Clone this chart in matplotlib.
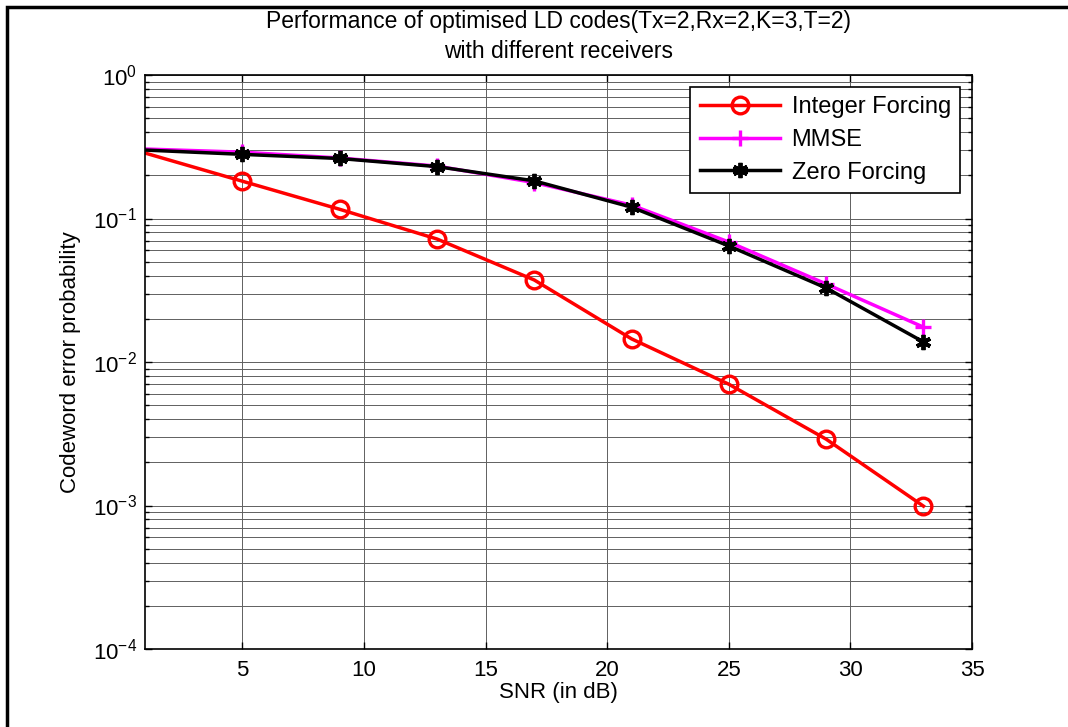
#!/usr/bin/env python
# coding: utf-8

r"""Codeword error probability vs SNR for optimised LD codes
    x : SNR (dB)
    y : codeword error probability (log)
"""
import matplotlib
matplotlib.use("Agg")
from matplotlib import pyplot as plt
from matplotlib.patches import Rectangle

snr_db = [1, 5, 9, 13, 17, 21, 25, 29, 33]
integer_forcing = [0.286, 0.182, 0.116, 0.072, 0.0373, 0.0145, 0.0070, 0.0029, 0.00099]
mmse = [0.305, 0.290, 0.264, 0.232, 0.178, 0.124, 0.0686, 0.0350, 0.0175]
zero_forcing = [0.300, 0.280, 0.262, 0.230, 0.183, 0.120, 0.0644, 0.0328, 0.0138]

x_ticks = [5, 10, 15, 20, 25, 30, 35]
y_ticks = [1e-4, 1e-3, 1e-2, 1e-1, 1]
y_tick_labels = [r'$\mathregular{10^{-4}}$', r'$\mathregular{10^{-3}}$',
                 r'$\mathregular{10^{-2}}$', r'$\mathregular{10^{-1}}$',
                 r'$\mathregular{10^{0}}$']

plt.rcParams['font.family'] = ['Liberation Sans', 'DejaVu Sans']
plt.rcParams['mathtext.fontset'] = 'custom'
plt.rcParams['mathtext.rm'] = 'Liberation Sans'

figure = plt.figure(figsize=(10.68, 7.27), dpi=100)
axes = figure.add_axes([0.1358, 0.1073, 0.7744, 0.7895])

# outer frame of the exported figure
figure.patches.append(Rectangle((7 / 1068., -0.05), 1.2, 1 - 7 / 727. + 0.05,
                                transform=figure.transFigure, fill=False,
                                edgecolor='black', linewidth=2.5))

axes.plot(snr_db, integer_forcing, color='red', linewidth=2.5, marker='o',
          markersize=12, markerfacecolor='none', markeredgewidth=2.4,
          markevery=slice(1, None), label='Integer Forcing')
axes.plot(snr_db, mmse, color='magenta', linewidth=2.5, marker='+',
          markersize=12, markeredgewidth=2.4,
          markevery=slice(1, None), label='MMSE')
axes.plot(snr_db, zero_forcing, color='black', linewidth=2.5,
          marker=(6, 2, 0), markersize=11, markeredgewidth=2.8,
          markevery=slice(1, None), label='Zero Forcing')

axes.set_yscale('log')
axes.set_xlim(1, 35)
axes.set_ylim(1e-4, 1)
axes.set_xticks(x_ticks)
axes.set_yticks(y_ticks)
axes.set_yticklabels(y_tick_labels)

axes.grid(True, which='major', color='#606060', linewidth=0.7)
axes.grid(True, which='minor', axis='y', color='#606060', linewidth=0.7)
axes.tick_params(which='both', direction='in', top=True, right=True,
                 labelsize=16, width=1)
axes.tick_params(which='major', length=5)
axes.tick_params(which='minor', length=3)
axes.tick_params(axis='x', pad=8)
axes.tick_params(axis='y', pad=6)
for spine in axes.spines.values():
    spine.set_linewidth(1.2)

axes.set_xlabel('SNR (in dB)', fontsize=16, labelpad=1)
axes.set_ylabel('Codeword error probability', fontsize=16, labelpad=8)
axes.set_title('Performance of optimised LD codes(Tx=2,Rx=2,K=3,T=2)\n'
               'with different receivers', fontsize=16.5, linespacing=1.4,
               pad=12)

legend = axes.legend(loc='upper right', fontsize=17, fancybox=False,
                     framealpha=1, edgecolor='black', handlelength=3.4,
                     borderaxespad=0.5, labelspacing=0.45, handletextpad=0.5)
legend.get_frame().set_linewidth(1.2)

figure.savefig('out.png', dpi=100)
